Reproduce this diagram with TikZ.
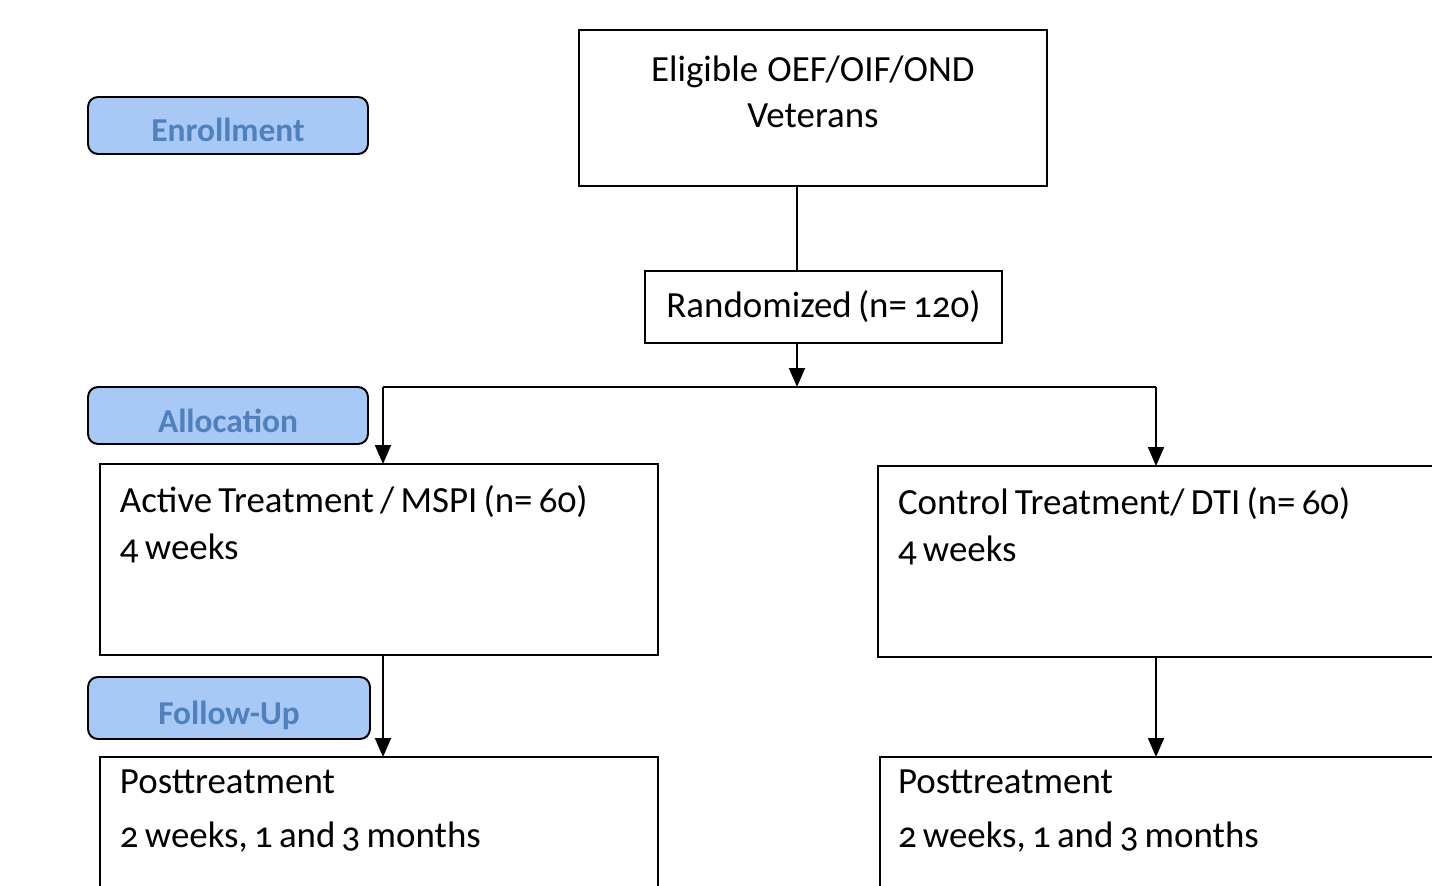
\documentclass[tikz,border=0pt]{standalone}
\usepackage{fontspec}
\setmainfont{Carlito}[Numbers=OldStyle, WordSpace=0.75]
\usetikzlibrary{arrows.meta}

\definecolor{phasefill}{RGB}{168,200,245}
\definecolor{phasetext}{RGB}{79,129,189}

\tikzset{
  box/.style={draw, line width=1.1pt, outer sep=0pt, inner ysep=0pt, inner xsep=0.4cm,
    align=left, anchor=north west, font=\fontsize{21}{26.6}\selectfont,
    execute at begin node={\spaceskip=0pt\xspaceskip=0pt\relax}},
  phase/.style={draw, line width=1.1pt, rounded corners=0.2cm, fill=phasefill,
    text=phasetext, minimum width=5.6cm, minimum height=1.14cm, text height=0.66cm, text depth=0cm,
    font=\fontsize{19}{22}\selectfont\bfseries},
  tip/.style={-{Triangle[width=0.32cm, length=0.38cm]}, line width=1.1pt}
}

\begin{document}
\begin{tikzpicture}[x=0.02cm, y=-0.02cm]
    \useasboundingbox (0,0) rectangle (1432,885);
    \clip (0,0) rectangle (1432,885);

    % Phase labels
    \node[phase] (enroll) at (228,125.5) {Enrollment};
    \node[phase] (alloc) at (228,415.5) {Allocation};
    \node[phase, minimum width=5.64cm, minimum height=1.24cm] (follow) at (229,708) {Follow-Up};

    % Boxes
    \node[box, inner xsep=0pt, align=center, text width=9.36cm, text height=1.04cm, text depth=2.08cm,
      font=\fontsize{21}{26.1}\selectfont] (elig) at (579,30) {Eligible OEF/OIF/OND\\Veterans};
    \node[box, anchor=center, align=center, inner xsep=0pt, minimum width=7.14cm, minimum height=1.44cm]
      (rand) at (823.5,307) {Randomized (n= 120)};
    \node[box, text width=10.36cm, text height=0.98cm, text depth=2.84cm] (act) at (100,464)
      {Active Treatment / MSPI (n= 60)\\4 weeks};
    \node[box, text width=10.36cm, text height=0.98cm, text depth=2.84cm] (ctrl) at (878,466)
      {Control Treatment/ DTI (n= 60)\\4 weeks};
    \node[box, text width=10.36cm, text height=0.72cm, text depth=2.6cm] (post1) at (100,757)
      {Posttreatment\\[0.16cm]2 weeks, 1 and 3 months};
    \node[box, inner xsep=0.36cm, text width=10.44cm, text height=0.72cm, text depth=2.6cm] (post2) at (880,757)
      {Posttreatment\\[0.16cm]2 weeks, 1 and 3 months};

    % Split points
    \coordinate (split) at (797,387);
    \coordinate (la) at (383,387);
    \coordinate (ra) at (1156,387);

    % Connectors
    \draw[line width=1.1pt] (split |- elig.south) -- (split |- rand.north);
    \draw[tip] (split |- rand.south) -- (split);
    \draw[line width=1.1pt] (la) -- (ra);
    \draw[tip] (la) -- (la |- act.north);
    \draw[tip] (ra) -- (ra |- ctrl.north);
    \draw[tip] (la |- act.south) -- (la |- post1.north);
    \draw[tip] (ra |- ctrl.south) -- (ra |- post2.north);
\end{tikzpicture}
\end{document}
